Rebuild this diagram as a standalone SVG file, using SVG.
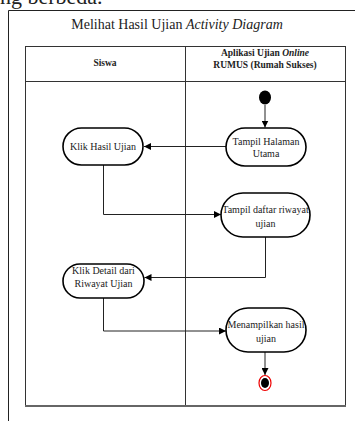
<svg xmlns="http://www.w3.org/2000/svg" width="355" height="421" viewBox="0 0 355 421" font-family="'Liberation Serif', 'DejaVu Serif', serif">
<defs>
<marker id="arr" viewBox="0 0 10 10" refX="10" refY="5" markerWidth="7" markerHeight="7" markerUnits="userSpaceOnUse" orient="auto">
<path d="M0,0 L10,5 L0,10 Z" fill="#000"/>
</marker>
<style>
text{fill:#222}
.node{fill:#fff;stroke:#000;stroke-width:1.6}
.lbl{font-size:10px;text-anchor:middle}
.conn{fill:none;stroke:#222;stroke-width:1;marker-end:url(#arr)}
.tbl{fill:none;stroke:#333;stroke-width:1}
.hdr{font-size:9.5px;font-weight:bold;text-anchor:middle}
</style>
</defs>
<rect width="355" height="421" fill="#fff"/>
<text x="0" y="4" font-size="22" fill="#000">ng berbeda.</text>
<path d="M8.5,421 V10.5 H355" fill="none" stroke="#222" stroke-width="1"/>
<text x="177" y="29" font-size="14" text-anchor="middle">Melihat Hasil Ujian <tspan font-style="italic">Activity Diagram</tspan></text>
<g id="swimlanes">
<rect class="tbl" x="25.5" y="46.5" width="320" height="359"/>
<line class="tbl" x1="25.5" y1="81.5" x2="345.5" y2="81.5"/>
<line class="tbl" x1="185.5" y1="46.5" x2="185.5" y2="406"/>
<line x1="25" y1="406" x2="346" y2="406" stroke="#666" stroke-width="2"/>
<text class="hdr" x="105" y="66">Siswa</text>
<text class="hdr" x="265" y="56">Aplikasi Ujian <tspan font-style="italic">Online</tspan></text>
<text class="hdr" x="265" y="67.5">RUMUS (Rumah Sukses)</text>
</g>
<g id="connectors">
<line class="conn" x1="265" y1="105" x2="265" y2="127.5"/>
<line class="conn" x1="226" y1="146.5" x2="144" y2="146.5"/>
<polyline class="conn" points="103.5,165 103.5,214.5 221,214.5"/>
<polyline class="conn" points="265.5,237 265.5,277.5 144.5,277.5"/>
<polyline class="conn" points="103.5,298 103.5,331 226,331"/>
<line class="conn" x1="265" y1="352" x2="265" y2="375"/>
</g>
<g id="start"><ellipse cx="265" cy="97.5" rx="6" ry="7" fill="#000"/></g>
<g id="tampil-halaman">
<rect class="node" x="226" y="128" width="80" height="38" rx="19"/>
<text class="lbl" x="266" y="144.5">Tampil Halaman</text>
<text class="lbl" x="266" y="156.5">Utama</text>
</g>
<g id="klik-hasil">
<rect class="node" x="63" y="128" width="80" height="37" rx="18.5"/>
<text class="lbl" x="103" y="149.5">Klik Hasil Ujian</text>
</g>
<g id="tampil-daftar">
<rect class="node" x="221" y="193" width="89" height="44" rx="22"/>
<text class="lbl" x="265.5" y="212.5">Tampil daftar riwayat</text>
<text class="lbl" x="265.5" y="226.5">ujian</text>
</g>
<g id="klik-detail">
<rect class="node" x="63" y="264" width="81" height="34" rx="17"/>
<text class="lbl" x="103.5" y="273.5">Klik Detail dari</text>
<text class="lbl" x="103.5" y="287">Riwayat Ujian</text>
</g>
<g id="menampilkan">
<rect class="node" x="226" y="308" width="80" height="44" rx="22"/>
<text class="lbl" x="266" y="327.5">Menampilkan hasil</text>
<text class="lbl" x="266" y="341.5">ujian</text>
</g>
<g id="end">
<ellipse cx="265" cy="383" rx="6" ry="7.5" fill="#fff" stroke="#e00" stroke-width="1.2"/>
<ellipse cx="265" cy="383" rx="4" ry="5" fill="#000"/>
</g>
</svg>
